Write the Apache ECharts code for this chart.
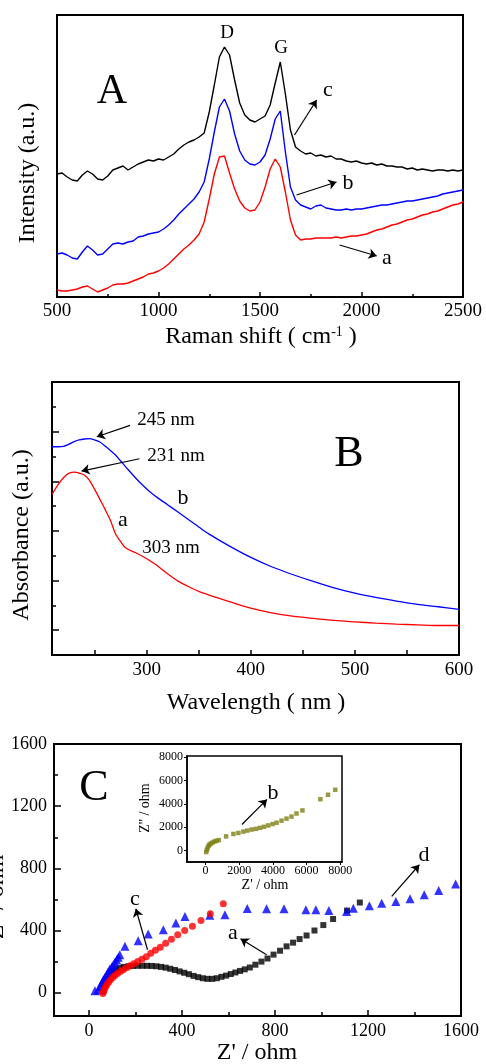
<!DOCTYPE html>
<html>
<head>
<meta charset="utf-8">
<script src="https://cdn.jsdelivr.net/npm/echarts@6/dist/echarts.min.js"></script>
<style>
html, body { margin: 0; padding: 0; background: #fff; }
#chart { width: 486px; height: 1064px; }
</style>
</head>
<body>
<div id="chart"></div>
<script>
// panel A - Raman spectra (intensity in arbitrary units)
var ramanShift = [500,525,550,575,600,625,650,675,700,725,750,775,800,825,850,875,900,925,950,975,
    1000,1025,1050,1075,1100,1125,1150,1175,1200,1225,1250,1275,1300,1325,1350,1375,1400,1425,1450,1475,
    1500,1525,1550,1575,1600,1625,1650,1675,1700,1725,1750,1775,1800,1825,1850,1875,1900,1925,1950,1975,
    2000,2025,2050,2075,2100,2125,2150,2175,2200,2225,2250,2275,2300,2325,2350,2375,2400,2425,2450,2475,2500];
var ramanC = [123,124,120,117,116,122,126,123,118,117,121,127,129,131,127,130,133,135,137,136,
    138,137,140,143,148,152,155,157,160,164,185,212,240,250,242,217,194,182,177,175,
    178,181,192,214,235,203,167,150,146,143,144,141,142,140,141,138,138,136,135,136,
    134,133,134,132,133,131,131,130,130,128,129,127,128,127,126,127,127,126,127,126,127];
var ramanB = [43,44,42,39,38,45,51,47,42,43,48,53,54,53,55,56,60,61,63,64,
    65,68,72,77,83,88,93,98,105,115,138,165,190,198,186,163,146,137,133,132,
    135,142,158,178,186,145,110,97,92,90,88,91,92,89,88,87,87,88,87,88,
    88,89,90,91,92,92,93,94,95,96,96,97,98,99,100,101,103,104,105,106,107];
var ramanA = [7,6,6,7,8,10,11,8,5,7,9,12,13,13,14,16,18,20,23,24,
    26,29,33,38,43,48,52,57,63,75,98,123,140,141,124,108,96,89,86,87,
    95,110,128,138,130,105,77,62,57,58,58,59,59,59,59,60,59,60,61,61,
    62,63,65,67,68,70,72,73,75,77,78,80,82,83,85,86,88,90,92,93,95];

// panel B - UV-vis absorbance
var wavelength = [209,215,220,225,231,235,240,245,250,255,260,265,270,275,280,290,300,305,310,320,
    330,340,350,360,380,400,420,440,460,480,500,520,540,560,580,600];
var absB = [2.348,2.348,2.352,2.372,2.402,2.416,2.426,2.429,2.416,2.396,2.355,2.311,2.264,2.204,2.143,2.026,1.922,1.878,1.838,1.764,
    1.690,1.615,1.540,1.468,1.344,1.233,1.139,1.061,0.991,0.927,0.873,0.830,0.793,0.759,0.736,0.709];
var absA = [1.868,1.969,2.036,2.080,2.093,2.083,2.063,2.009,1.918,1.818,1.717,1.609,1.471,1.391,1.327,1.277,1.219,1.186,1.152,1.068,
    0.994,0.940,0.890,0.853,0.786,0.722,0.675,0.641,0.618,0.598,0.584,0.571,0.561,0.554,0.547,0.547];

// panel C - Nyquist plots (ohm)
var zReA = [62,66,72,80,90,102,116,132,150,170,190,210,230,250,270,290,310,330,350,370,390,410,430,
    450,470,490,510,530,550,570,590,610,630,650,670,692,716,742,768,794,822,850,878,906,936,970,1008,1050,1110,1165];
var zImA = [10,40,70,98,120,138,150,160,166,170,172,173,173,173,172,170,166,161,154,146,137,128,119,
    108,100,93,89,89,93,102,110,120,130,140,150,162,180,200,220,245,270,298,322,345,368,400,435,474,528,580];
var zReC = [60,63,67,72,78,85,93,102,112,123,135,148,162,177,193,210,228,247,266,286,307,330,355,382,412,445,482,522,578];
var zImC = [-5,8,22,38,53,68,83,97,110,123,136,148,160,173,186,200,215,232,253,273,293,318,343,372,400,428,465,508,572];
var zReD = [26,40,47,55,62,69,76,83,90,98,105,112,119,126,133,155,212,255,320,374,413,520,585,681,764,839,933,976,1032,1108,1137,1206,1259,1320,1381,1442,1504,1577];
var zImD = [13,18,40,62,84,100,116,134,152,166,180,196,212,228,244,298,334,377,405,448,490,498,501,542,540,540,533,533,528,522,544,559,576,587,605,630,658,700];
// inset - curve b
var zReB = [39,79,118,177,236,315,414,532,650,788,1221,1655,1950,2246,2482,2738,2994,3231,3467,3723,3979,4216,4511,4807,5102,5398,5752,6816,7269,7700];
var zImB = [-146,29,205,381,498,586,673,761,820,878,1200,1406,1493,1611,1698,1786,1845,1933,2020,2138,2255,2372,2548,2723,2899,3163,3426,4392,4773,5200];

// tick labels
var ticksB = [300,400,500,600];
var ticksC = [0,400,800,1200,1600];
var minorC = [200,600,1000,1400];
var ticksInset = [0,2000,4000,6000,8000];

var font = '"Liberation Serif", "Times New Roman", serif';

function pairs(xs, ys) {
    return xs.map(function (x, i) { return [x, ys[i]]; });
}

function txt(x, y, s, size, rot, rich) {
    var el = {
        type: 'text', x: x, y: y, rotation: rot || 0, z: 100,
        style: {
            text: s, fontSize: size, fontFamily: font, fill: '#000',
            align: 'center', verticalAlign: 'middle'
        }
    };
    if (rich) el.style.rich = rich;
    return el;
}

function arrow(p1, p2) {
    return {
        symbol: ['none', 'arrow'],
        symbolSize: 8,
        silent: true,
        animation: false,
        label: { show: false },
        lineStyle: { color: '#000', width: 1.2, type: 'solid' },
        emphasis: { disabled: true },
        data: [[{ coord: p1 }, { coord: p2 }]]
    };
}

var lineAxis = { onZero: false, lineStyle: { color: '#000', width: 2 } };
var noLine = { show: false, onZero: false };
var tickStyle = { color: '#000', width: 1.5 };
var lab = function (size, margin, vals) {
    var o = { color: '#000', fontSize: size, fontFamily: font, margin: margin, showMinLabel: true, showMaxLabel: true,
              formatter: function (v) { return String(v); } };
    if (vals) o.customValues = vals;
    return o;
};

var myChart = echarts.init(document.getElementById('chart'));

var option = {
    animation: false,
    backgroundColor: '#fff',
    grid: [
        { left: 57, top: 15, width: 406, height: 282, show: true, borderColor: '#000', borderWidth: 2 },
        { left: 52, top: 382, width: 407, height: 273, show: true, borderColor: '#000', borderWidth: 2 },
        { left: 54, top: 744, width: 407, height: 272, show: true, borderColor: '#000', borderWidth: 2 },
        { left: 187, top: 756, width: 155, height: 106, show: true, borderColor: '#000', borderWidth: 1.5, backgroundColor: '#fff' }
    ],
    xAxis: [
        { gridIndex: 0, type: 'value', min: 500, max: 2500, interval: 500,
          axisLine: lineAxis, axisTick: { inside: true, length: 5, lineStyle: tickStyle },
          minorTick: { show: true, splitNumber: 2, length: 3, lineStyle: tickStyle },
          axisLabel: lab(19, 5), splitLine: { show: false }, minorSplitLine: { show: false } },
        { gridIndex: 1, type: 'value', min: 209, max: 600,
          axisLine: lineAxis,
          axisTick: { inside: true, length: 5, lineStyle: tickStyle, customValues: [250,300,350,400,450,500,550] },
          axisLabel: lab(19, 6, ticksB), splitLine: { show: false } },
        { gridIndex: 2, type: 'value', min: -150, max: 1600,
          axisLine: lineAxis,
          axisTick: { inside: true, length: 6, lineStyle: tickStyle, customValues: ticksC },
          axisLabel: lab(18, 6, ticksC), splitLine: { show: false } },
        { gridIndex: 2, type: 'value', min: -150, max: 1600, position: 'bottom',
          axisLine: noLine,
          axisTick: { inside: true, length: 4, lineStyle: tickStyle, customValues: minorC },
          axisLabel: { show: false }, splitLine: { show: false } },
        { gridIndex: 3, type: 'value', min: -1100, max: 8100,
          axisLine: { onZero: false, lineStyle: { color: '#000', width: 1.5 } },
          axisTick: { inside: false, length: 3, lineStyle: { color: '#000', width: 1 }, customValues: ticksInset },
          axisLabel: lab(12, 3, ticksInset), splitLine: { show: false } }
    ],
    yAxis: [
        { gridIndex: 0, type: 'value', min: 0, max: 282,
          axisLine: { show: true, onZero: false, lineStyle: { color: '#000', width: 2 } },
          axisTick: { show: false }, axisLabel: { show: false }, splitLine: { show: false } },
        { gridIndex: 1, type: 'value', min: 0.25, max: 3.0,
          axisLine: { show: true, onZero: false, lineStyle: { color: '#000', width: 2 } },
          axisTick: { inside: true, length: 7, lineStyle: tickStyle, customValues: [0.5,1,1.5,2,2.5] },
          axisLabel: { show: false }, splitLine: { show: false } },
        { gridIndex: 1, type: 'value', min: 0.25, max: 3.0, position: 'left',
          axisLine: noLine,
          axisTick: { inside: true, length: 4, lineStyle: tickStyle, customValues: [0.75,1.25,1.75,2.25,2.75] },
          axisLabel: { show: false }, splitLine: { show: false } },
        { gridIndex: 2, type: 'value', min: -150, max: 1600,
          axisLine: { show: true, onZero: false, lineStyle: { color: '#000', width: 2 } },
          axisTick: { inside: true, length: 7, lineStyle: tickStyle, customValues: ticksC },
          axisLabel: lab(18, 7, ticksC), splitLine: { show: false } },
        { gridIndex: 2, type: 'value', min: -150, max: 1600, position: 'left',
          axisLine: noLine,
          axisTick: { inside: true, length: 4, lineStyle: tickStyle, customValues: minorC },
          axisLabel: { show: false }, splitLine: { show: false } },
        { gridIndex: 3, type: 'value', min: -1000, max: 8100,
          axisLine: { show: true, onZero: false, lineStyle: { color: '#000', width: 1.5 } },
          axisTick: { inside: false, length: 3, lineStyle: { color: '#000', width: 1 }, customValues: ticksInset },
          axisLabel: lab(12, 4, ticksInset), splitLine: { show: false } }
    ],
    series: [
        { name: 'c', type: 'line', xAxisIndex: 0, yAxisIndex: 0, showSymbol: false,
          data: pairs(ramanShift, ramanC), lineStyle: { color: '#000', width: 1.4 }, itemStyle: { color: '#000' },
          markLine: arrow([1670, 162], [1779, 197]) },
        { name: 'b', type: 'line', xAxisIndex: 0, yAxisIndex: 0, showSymbol: false,
          data: pairs(ramanShift, ramanB), lineStyle: { color: '#0000ff', width: 1.4 }, itemStyle: { color: '#0000ff' },
          markLine: arrow([1680, 102], [1877, 115]) },
        { name: 'a', type: 'line', xAxisIndex: 0, yAxisIndex: 0, showSymbol: false,
          data: pairs(ramanShift, ramanA), lineStyle: { color: '#ff0000', width: 1.4 }, itemStyle: { color: '#ff0000' },
          markLine: arrow([1892, 52], [2075, 41]) },

        { name: 'B-b', type: 'line', xAxisIndex: 1, yAxisIndex: 1, showSymbol: false, smooth: 0.3,
          data: pairs(wavelength, absB), lineStyle: { color: '#0000ff', width: 1.3 }, itemStyle: { color: '#0000ff' },
          markLine: arrow([284, 2.563], [252, 2.449]) },
        { name: 'B-a', type: 'line', xAxisIndex: 1, yAxisIndex: 1, showSymbol: false, smooth: 0.3,
          data: pairs(wavelength, absA), lineStyle: { color: '#ff0000', width: 1.3 }, itemStyle: { color: '#ff0000' },
          markLine: arrow([293, 2.227], [237.4, 2.103]) },

        { name: 'C-a', type: 'scatter', xAxisIndex: 2, yAxisIndex: 3, symbol: 'rect', symbolSize: 6,
          data: pairs(zReA, zImA), itemStyle: { color: '#000' },
          markLine: arrow([764, 244], [652, 347]) },
        { name: 'C-d', type: 'scatter', xAxisIndex: 2, yAxisIndex: 3, symbol: 'triangle', symbolSize: 9,
          data: pairs(zReD, zImD), itemStyle: { color: '#0000ff' },
          markLine: arrow([1302, 619], [1421, 823]) },
        { name: 'C-c', type: 'scatter', xAxisIndex: 2, yAxisIndex: 3, symbol: 'circle', symbolSize: 7,
          data: pairs(zReC, zImC), itemStyle: { color: '#ff0000' },
          markLine: arrow([252, 276], [202, 540]) },
        { name: 'C-b', type: 'scatter', xAxisIndex: 4, yAxisIndex: 5, symbol: 'rect', symbolSize: 4.5,
          data: pairs(zReB, zImB), itemStyle: { color: '#7f7f17' },
          markLine: arrow([2162, 2218], [3647, 4375]) }
    ],
    graphic: [
        // panel A
        txt(112, 92, 'A', 42),
        txt(227, 33, 'D', 19),
        txt(281, 48, 'G', 19),
        txt(328, 90, 'c', 22),
        txt(348, 183, 'b', 22),
        txt(387, 258, 'a', 22),
        txt(261, 337, 'Raman shift ( cm{sup|-1} )', 24, 0, { sup: { fontSize: 14, fontFamily: font, verticalAlign: 'top' } }),
        txt(28, 173, 'Intensity (a.u.)', 24, Math.PI / 2),
        // panel B
        txt(349, 454, 'B', 44),
        txt(166, 420, '245 nm', 19),
        txt(176, 456, '231 nm', 19),
        txt(183, 498, 'b', 22),
        txt(123, 520, 'a', 22),
        txt(171, 548, '303 nm', 19),
        txt(256, 703, 'Wavelength ( nm )', 24),
        txt(22, 535, 'Absorbance (a.u.)', 24, Math.PI / 2),
        // panel C
        txt(94, 788, 'C', 44),
        txt(135, 899, 'c', 22),
        txt(233, 933, 'a', 22),
        txt(424, 855, 'd', 22),
        txt(273, 793, 'b', 22),
        txt(257, 1053, "Z' / ohm", 24),
        txt(-3, 897, "Z'' / ohm", 24, Math.PI / 2),
        txt(145, 808, "Z'' / ohm", 14, Math.PI / 2),
        txt(265, 885, "Z' / ohm", 14)
    ]
};

myChart.setOption(option);
</script>
</body>
</html>
